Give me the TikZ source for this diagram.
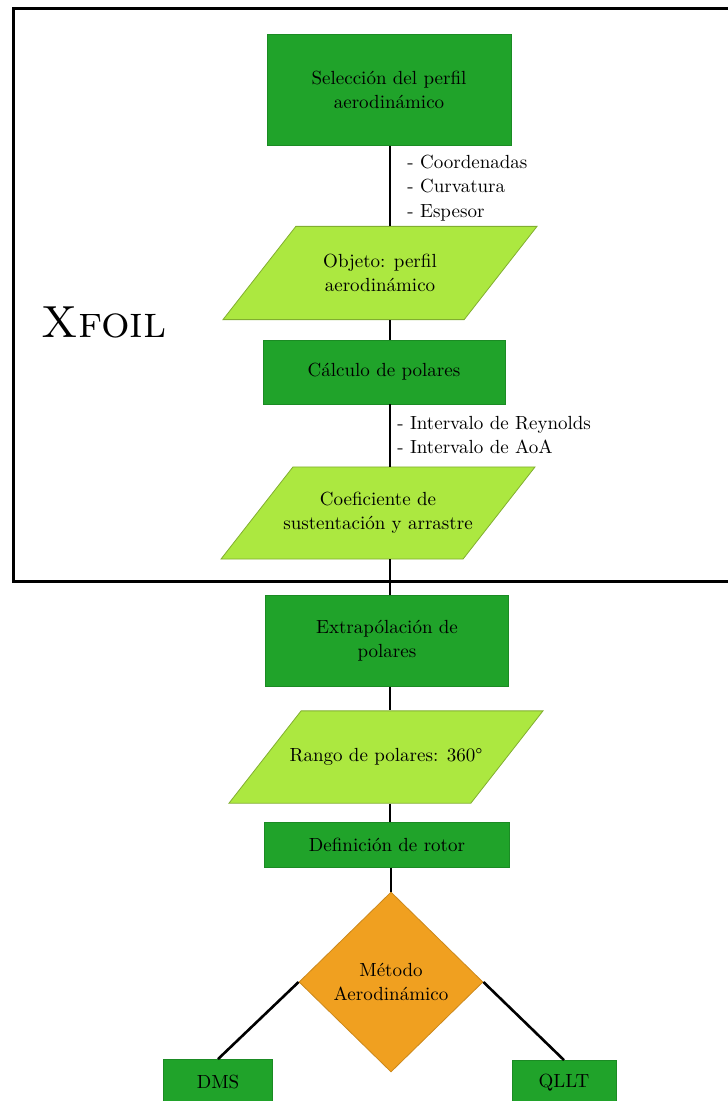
\documentclass[tikz,border=0pt]{standalone}
\usetikzlibrary{shapes.geometric}
\definecolor{procgreen}{RGB}{32,163,42}
\definecolor{datagreen}{RGB}{172,232,64}
\definecolor{decorange}{RGB}{240,160,32}
\begin{document}
\begin{tikzpicture}[x=0.5pt, y=-0.5pt, every node/.style={font=\fontsize{9.5}{12.2}\selectfont},
  proc/.style={rectangle, fill=procgreen, draw=procgreen!85!black, thin, align=center, inner sep=2pt},
  data/.style={trapezium, trapezium left angle=52, trapezium right angle=128, trapezium stretches body,
    fill=datagreen, draw=datagreen!75!black, thin, align=center, minimum height=46pt, minimum width=157pt,
    inner xsep=-6pt, inner ysep=#1},
  data/.default=13.8pt,
  decision/.style={diamond, fill=decorange, draw=decorange!85!black, thin, align=center, minimum width=92pt, minimum height=90pt, inner sep=0pt},
  link/.style={line width=1.3pt},
  notes/.style={align=left, anchor=west, inner sep=0pt}]
\useasboundingbox (0,0) rectangle (727,1101);
\node (xfoilbox) [draw, line width=1.5pt, minimum width=364pt, minimum height=286pt, inner sep=0pt] at (377,295) {};
\node (xfoil) at (104,322) {\fontsize{22.5}{27}\selectfont\textsc{Xfoil}};
\coordinate (spine) at (390,0);
\node (perfil) [proc, minimum width=122pt, minimum height=55.5pt] at (389,90) {Selección del perfil\\aerodinámico};
\node (objeto) [data] at (380,273) {Objeto: perfil\\aerodinámico};
\node (calculo) [proc, minimum width=121pt, minimum height=32pt] at (384,372) {Cálculo de polares};
\node (coef) [data=12.6pt] at (378,513) {Coeficiente de\\sustentación y arrastre};
\node (extrap) [proc, minimum width=121.5pt, minimum height=45.5pt] at (387,641) {Extrapólación de\\polares};
\node (rango) [data=18.8pt] at (386,757) {Rango de polares: 360°};
\node (rotor) [proc, minimum width=122.5pt, minimum height=22.5pt] at (387,845) {Definición de rotor};
\node (metodo) [decision] at (391,982) {Método\\Aerodinámico};
\node (dms) [proc, minimum width=54.5pt, minimum height=22.5pt] at (218,1082) {DMS};
\node (qllt) [proc, minimum width=52pt, minimum height=22.5pt] at (564,1083) {QLLT};
\node (geom) [notes] at (407,188) {- Coordenadas\\- Curvatura\\- Espesor};
\node (rangos) [notes] at (397,435) {- Intervalo de Reynolds\\- Intervalo de AoA};
\draw[link] (perfil.south -| spine) -- (objeto.north -| spine);
\draw[link] (objeto.south -| spine) -- (calculo.north -| spine);
\draw[link] (calculo.south -| spine) -- (coef.north -| spine);
\draw[link] (coef.south -| spine) -- (extrap.north -| spine);
\draw[link] (extrap.south -| spine) -- (rango.north -| spine);
\draw[link] (rango.south -| spine) -- (rotor.north -| spine);
\draw[link] (rotor.south -| metodo.north) -- (metodo.north);
\draw[link] (metodo.west) -- (dms.north);
\draw[link] (metodo.east) -- (qllt.north);
\end{tikzpicture}
\end{document}
